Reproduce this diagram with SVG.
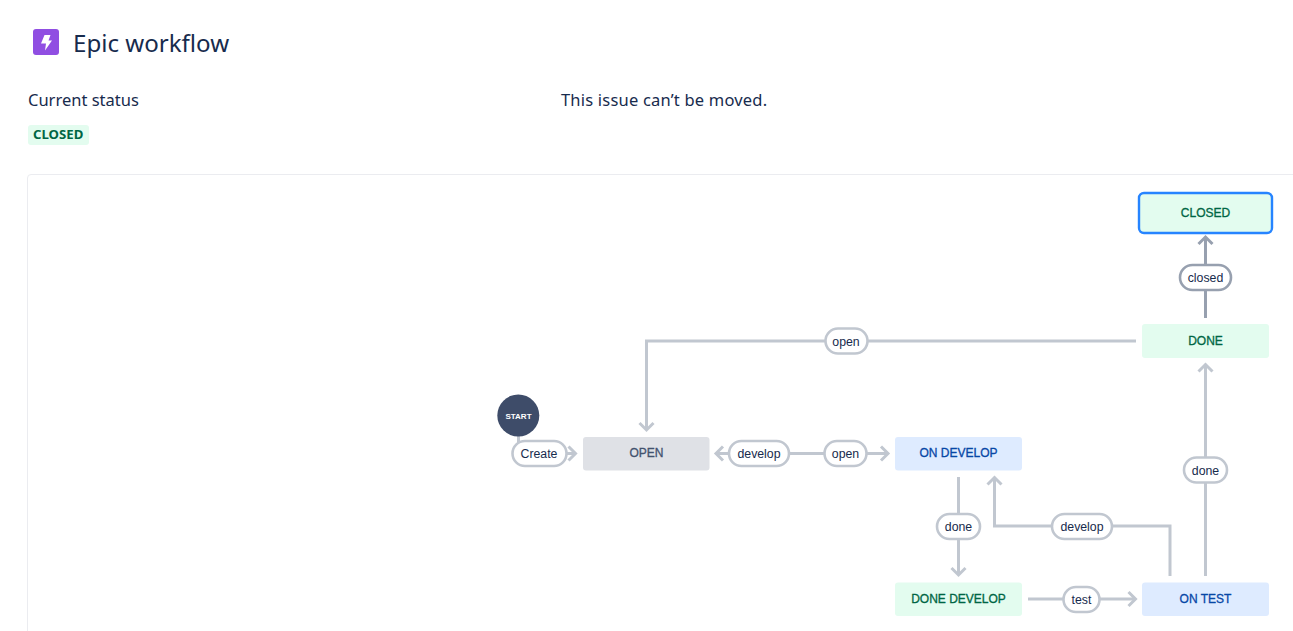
<svg xmlns="http://www.w3.org/2000/svg" width="1293" height="631" viewBox="0 0 1293 631">
<style>
.ui{font-family:"Noto Sans","Open Sans","Liberation Sans",sans-serif;fill:#172B4D}
.node rect{stroke:none}
.node text{font-family:"Liberation Sans",Arial,sans-serif;font-size:12px;text-anchor:middle;stroke-width:.3px}
.green rect{fill:#E3FCEF}.green text{fill:#006644;stroke:#006644}
.blue rect{fill:#DEEBFF}.blue text{fill:#0747A6;stroke:#0747A6}
.grey rect{fill:#DFE1E6}.grey text{fill:#42526E;stroke:#42526E}
.edge{fill:none;stroke:#C1C7D0;stroke-width:3}
.edge.dark{stroke:#97A0AF}
.head{fill:none;stroke:#C1C7D0;stroke-width:3}
.head.dark{stroke:#97A0AF}
.pill rect{fill:#fff;stroke:#C1C7D0;stroke-width:2.6}
.pill.dark rect{stroke:#97A0AF}
.pill text{font-family:"Liberation Sans",Arial,sans-serif;font-size:12.300px;fill:#172B4D;text-anchor:middle}
</style>
<rect width="1293" height="631" fill="#fff"/>
<g id="header">
<rect x="33" y="29" width="26" height="26" rx="3" fill="#904EE2"/>
<path d="M44.500 35H50.500L48.500 40.500H52L45 50.500L46 43.500H41Z" fill="#fff"/>
<text class="ui" x="73" y="52" font-size="24.100">Epic workflow</text>
<text class="ui" x="28" y="106" font-size="16.500">Current status</text>
<text class="ui" x="561" y="106" font-size="16.500" letter-spacing=".2">This issue can’t be moved.</text>
<rect x="28" y="125" width="61" height="20" rx="3" fill="#E3FCEF"/>
<text x="33" y="139" font-family="Noto Sans,Open Sans,sans-serif" font-size="13.200" font-weight="700" fill="#006644">CLOSED</text>
</g>
<path id="panel" d="M1293 174.500H31a3.500 3.500 0 0 0-3.500 3.500V631" fill="none" stroke="#EBECF0" stroke-width="1"/>
<g id="connectors">
<path class="edge" d="M1136 341H646.500V429"/>
<path class="head" d="M639.500 423L646.500 430L653.500 423"/>
<path class="edge" d="M518.500 436V453.500H575"/>
<path class="head" d="M568.500 446.500L575.500 453.500L568.500 460.500"/>
<path class="edge" d="M716 453.500H888"/>
<path class="head" d="M723 446.500L716 453.500L723 460.500"/>
<path class="head" d="M881 446.500L888 453.500L881 460.500"/>
<path class="edge" d="M958.500 477V574"/>
<path class="head" d="M951.500 568L958.500 575L965.500 568"/>
<path class="edge" d="M1028 599H1135"/>
<path class="head" d="M1128.500 592L1135.500 599L1128.500 606"/>
<path class="edge" d="M1170 576V526H994.500V478"/>
<path class="head" d="M987.500 484.500L994.500 477.500L1001.500 484.500"/>
<path class="edge" d="M1205.500 576V365"/>
<path class="head" d="M1198.500 371.500L1205.500 364.500L1212.500 371.500"/>
<path class="edge dark" d="M1205.500 318V238"/>
<path class="head dark" d="M1198.500 244L1205.500 237L1212.500 244"/>
</g>
<g id="node-start">
<circle cx="518.300" cy="415.500" r="21" fill="#3E4C69"/>
<text x="518.500" y="419" font-family="Liberation Sans,sans-serif" font-size="8" font-weight="700" fill="#fff" text-anchor="middle">START</text>
</g>
<g id="node-open" class="node grey"><rect x="583" y="437" width="126.500" height="33.500" rx="3"/><text x="646.500" y="457">OPEN</text></g>
<g id="node-on-develop" class="node blue"><rect x="895" y="437" width="127" height="33.500" rx="3"/><text x="958.500" y="457">ON DEVELOP</text></g>
<g id="node-done-develop" class="node green"><rect x="895" y="582.500" width="127" height="33.500" rx="3"/><text x="958.500" y="603">DONE DEVELOP</text></g>
<g id="node-on-test" class="node blue"><rect x="1142" y="582.500" width="127" height="33.500" rx="3"/><text x="1205.500" y="603">ON TEST</text></g>
<g id="node-done" class="node green"><rect x="1142" y="324" width="127" height="34" rx="3"/><text x="1205.500" y="345">DONE</text></g>
<g id="node-closed" class="node green"><rect x="1139" y="193" width="133" height="40" rx="5" style="stroke:#2684FF;stroke-width:2.400"/><text x="1205.500" y="217">CLOSED</text></g>
<g id="labels">
<g class="pill"><rect x="825.500" y="328.500" width="42" height="25" rx="12.500"/><text x="846" y="345.500">open</text></g>
<g class="pill"><rect x="512.500" y="441" width="54" height="25" rx="12.500"/><text x="539" y="458">Create</text></g>
<g class="pill"><rect x="729" y="441" width="60" height="25" rx="12.500"/><text x="759" y="458">develop</text></g>
<g class="pill"><rect x="824.500" y="441" width="42" height="25" rx="12.500"/><text x="845.500" y="458">open</text></g>
<g class="pill"><rect x="937" y="514" width="43" height="25" rx="12.500"/><text x="958.500" y="531">done</text></g>
<g class="pill"><rect x="1052" y="514" width="60" height="25" rx="12.500"/><text x="1082" y="531">develop</text></g>
<g class="pill"><rect x="1063.500" y="587" width="36" height="25" rx="12.500"/><text x="1081.500" y="604">test</text></g>
<g class="pill"><rect x="1184" y="457.500" width="43" height="25" rx="12.500"/><text x="1205.500" y="474.500">done</text></g>
<g class="pill dark"><rect x="1180" y="265" width="51" height="25" rx="12.500"/><text x="1205.500" y="282">closed</text></g>
</g>
</svg>
